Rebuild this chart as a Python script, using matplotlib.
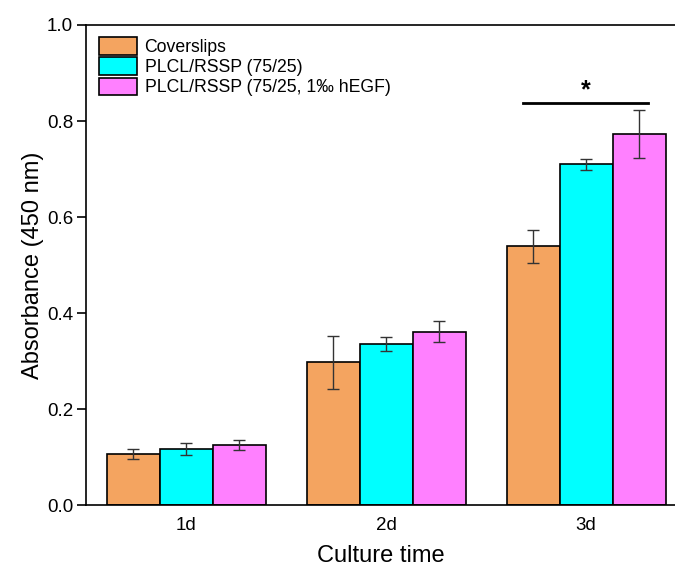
import numpy as np
import matplotlib.pyplot as plt

plt.rcParams['font.family'] = ['Liberation Sans', 'DejaVu Sans']

days = ["1d", "2d", "3d"]
series = ["Coverslips", "PLCL/RSSP (75/25)", "PLCL/RSSP (75/25, 1\u2030 hEGF)"]
means = [
    [0.107, 0.298, 0.539],
    [0.118, 0.336, 0.710],
    [0.126, 0.362, 0.773],
]
errs = [
    [0.010, 0.055, 0.035],
    [0.012, 0.015, 0.012],
    [0.010, 0.022, 0.050],
]
colors = ["#F4A460", "#00FFFF", "#FF80FF"]

fig = plt.figure(figsize=(6.75, 5.72), dpi=100)
ax = fig.add_axes([0.128, 0.1163, 0.872, 0.84])

x = np.arange(len(days))
w = 0.265
for i, (name, m, e, c) in enumerate(zip(series, means, errs, colors)):
    ax.bar(x + (i - 1) * w, m, w, yerr=e, color=c, edgecolor="black", linewidth=1.2,
           label=name, capsize=4, error_kw=dict(elinewidth=1, capthick=1, ecolor="#333333"))

# significance bar on 3d
ax.plot([2 - 0.315, 2 + 0.31], [0.837, 0.837], color="black", linewidth=2)
ax.text(2 + 0.0, 0.84, "*", ha="center", va="bottom", fontsize=18, fontweight="bold")

ax.set_xlim(-0.5, 2.445)
ax.set_ylim(0, 1.0)
ax.set_xticks(x)
ax.set_xticklabels(days)
ax.set_yticks(np.arange(0, 1.01, 0.2))
ax.set_yticklabels([f"{v:.1f}" for v in np.arange(0, 1.01, 0.2)])
ax.tick_params(labelsize=13.5, direction="out", width=1.2)
ax.tick_params(axis="y", length=6.5, pad=3)
ax.tick_params(axis="x", length=0, pad=8)
ax.set_xlabel("Culture time", fontsize=17, labelpad=8)
ax.set_ylabel("Absorbance (450 nm)", fontsize=17, labelpad=2)
for s in ax.spines.values():
    s.set_linewidth(1.2)
ax.spines["right"].set_visible(False)

ax.legend(loc="upper left", frameon=False, fontsize=12.7, handlelength=2.15, handleheight=1.15,
          borderaxespad=0.4, borderpad=0.3, labelspacing=0.08, handletextpad=0.45)

fig.savefig("out.png", dpi=100)
